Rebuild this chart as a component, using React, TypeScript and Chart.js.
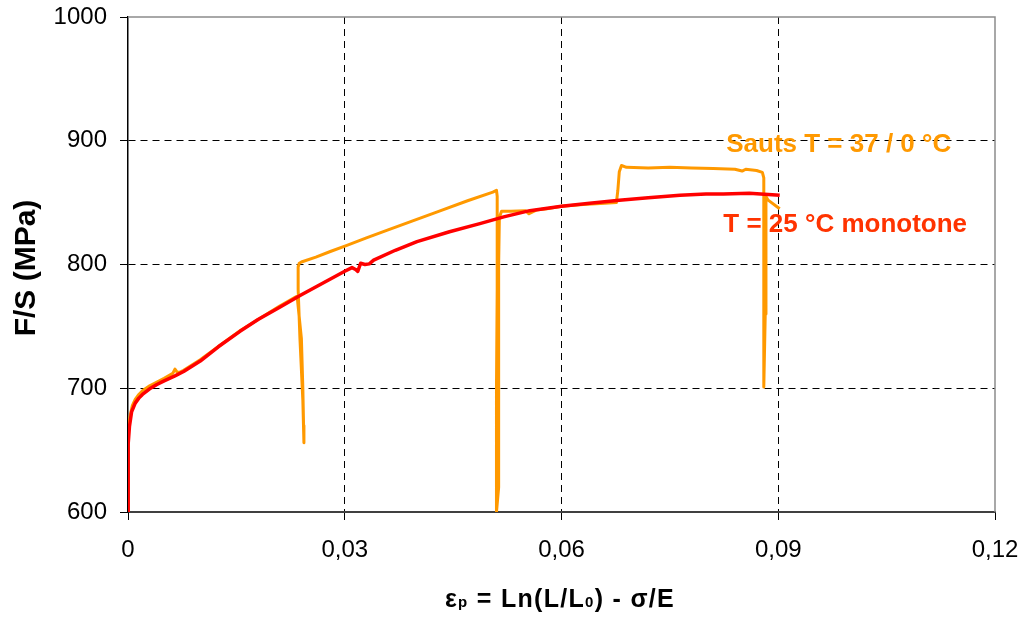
import React, { useEffect, useRef } from 'react';
import { Chart, registerables } from 'chart.js';

Chart.register(...registerables);

// ---- Data ----
const redStrain = [
  0, 0, 0.00005, 0.0002, 0.0005, 0.001, 0.0015, 0.002, 0.003, 0.004, 0.005, 0.0065, 0.0077,
  0.01, 0.0125, 0.0155, 0.018, 0.021, 0.024, 0.027, 0.0300, 0.0310, 0.0315, 0.0318, 0.0322,
  0.0328, 0.0334, 0.0340, 0.037, 0.040, 0.0445, 0.0487, 0.052, 0.0556, 0.060, 0.0639, 0.068,
  0.072, 0.0764, 0.080, 0.0824, 0.086, 0.0902,
];
const redStress = [
  600, 630, 655, 669, 681, 688, 692, 695, 699.5, 703, 706, 710, 713.5,
  722, 733.5, 746, 755.5, 765.5, 775.5, 785, 794.5, 797.5, 796, 794.5, 801,
  800, 800.5, 803.5, 811.5, 818.5, 826.5, 833, 838.5, 843.5, 847, 849.5, 852,
  854, 856, 857, 857, 857.5, 856,
];

const orangeStrain = [
  0, 0, 0.0001, 0.0003, 0.0006, 0.001, 0.0015, 0.002, 0.003, 0.005, 0.0062, 0.0065, 0.0068,
  0.0072, 0.0077, 0.01, 0.0155, 0.021, 0.0233,
  0.02345, 0.0240, 0.0242, 0.0243, 0.02435, 0.0242, 0.0238, 0.02355, 0.02355, 0.0237, 0.0240,
  0.026, 0.028, 0.0303, 0.033, 0.036, 0.0395, 0.043, 0.047, 0.0505, 0.0510,
  0.0511, 0.0511, 0.0510, 0.0510, 0.0513, 0.0513, 0.0513, 0.0514, 0.0517, 0.053, 0.055, 0.0555,
  0.0565, 0.058, 0.060, 0.063, 0.066, 0.0676,
  0.0678, 0.0680, 0.0683, 0.069, 0.072, 0.075, 0.078, 0.081, 0.084, 0.085, 0.0855, 0.087, 0.0878,
  0.0880, 0.0880, 0.0880, 0.0882, 0.0883, 0.0883, 0.0886, 0.0902,
];
const orangeStress = [
  600, 650, 668, 678, 686, 691, 695, 698, 702, 708, 712, 715.5, 713,
  713, 714.5, 723, 746.5, 766.5, 774,
  772, 740, 700, 670, 656, 690, 740, 780, 798, 801, 802,
  806, 810.5, 815.5, 821.5, 828, 835.5, 843, 851.5, 858.5, 860,
  855, 780, 700, 600, 620, 700, 800, 838, 843, 843, 843.5, 841,
  844, 845, 847, 848.5, 849.5, 850,
  860, 875, 880, 878.5, 878, 878.5, 878, 877.5, 877, 875.5, 877, 876, 874.5,
  870, 800, 701, 760, 830, 855, 852, 845,
];

const xTickValues = [0, 0.03, 0.06, 0.09, 0.12];
const xTickLabels = ['0', '0,03', '0,06', '0,09', '0,12'];
const yTickValues = [600, 700, 800, 900, 1000];
const seriesNames = ['T = 25 °C monotone', 'Sauts T = 37 / 0 °C'];
const yTitle = 'F/S (MPa)';

const FONT = "'Liberation Sans', Arial, Helvetica, sans-serif";

const overlayPlugin = {
  id: 'overlay',
  afterDraw(chart: any) {
    const { ctx, chartArea: a, scales } = chart;
    const xs = scales.x;
    const ys = scales.y;
    ctx.save();
    // top and right frame
    ctx.strokeStyle = '#8c8c8c';
    ctx.lineWidth = 1.5;
    ctx.beginPath();
    ctx.moveTo(a.left, a.top);
    ctx.lineTo(a.right, a.top);
    ctx.lineTo(a.right, a.bottom);
    ctx.stroke();

    // series labels
    ctx.font = `bold 26px ${FONT}`;
    ctx.textAlign = 'left';
    ctx.textBaseline = 'alphabetic';
    ctx.fillStyle = '#FF9900';
    ctx.fillText(seriesNames[1], xs.getPixelForValue(0.0828), ys.getPixelForValue(891.3));
    ctx.fillStyle = '#FF3300';
    ctx.fillText(seriesNames[0], xs.getPixelForValue(0.0824), ys.getPixelForValue(826));

    // y axis title
    ctx.fillStyle = '#000';
    ctx.font = `bold 30px ${FONT}`;
    ctx.save();
    ctx.translate(35, 268);
    ctx.rotate(-Math.PI / 2);
    ctx.textAlign = 'center';
    ctx.fillText(yTitle, 0, 0);
    ctx.restore();

    // x axis title with subscripts
    const parts: [string, number][] = [
      ['ε', 25], ['p', 15], [' = Ln(L/L', 25], ['0', 15], [') - σ/E', 25],
    ];
    (ctx as any).letterSpacing = '1.3px';
    let total = 0;
    const widths = parts.map(([t, s]) => {
      ctx.font = `bold ${s}px ${FONT}`;
      const w = ctx.measureText(t).width;
      total += w;
      return w;
    });
    let x = 560 - total / 2;
    const base = 607;
    ctx.textAlign = 'left';
    parts.forEach(([t, s], i) => {
      ctx.font = `bold ${s}px ${FONT}`;
      ctx.fillText(t, x, base);
      x += widths[i];
    });
    (ctx as any).letterSpacing = '0px';
    ctx.restore();
  },
};

export default function App() {
  const ref = useRef<HTMLCanvasElement | null>(null);

  useEffect(() => {
    document.body.style.margin = '0';
    const canvas = ref.current;
    if (!canvas) return;
    const redData = redStrain.map((x, i) => ({ x, y: redStress[i] }));
    const orangeData = orangeStrain.map((x, i) => ({ x, y: orangeStress[i] }));

    const chart = new Chart(canvas, {
      type: 'line',
      data: {
        datasets: [
          {
            label: seriesNames[0],
            data: redData,
            borderColor: '#FF0000',
            backgroundColor: '#FF0000',
            borderWidth: 3.5,
            pointRadius: 0,
            tension: 0,
            borderJoinStyle: 'round',
          },
          {
            label: seriesNames[1],
            data: orangeData,
            borderColor: '#FF9900',
            backgroundColor: '#FF9900',
            borderWidth: 3,
            pointRadius: 0,
            tension: 0,
            borderJoinStyle: 'round',
          },
        ],
      },
      options: {
        responsive: false,
        animation: false,
        events: [],
        layout: { padding: { top: 17, right: 30, left: 0, bottom: 0 } },
        plugins: {
          legend: { display: false },
          tooltip: { enabled: false },
          title: { display: false },
        },
        scales: {
          x: {
            type: 'linear',
            min: 0,
            max: 0.12,
            afterBuildTicks: (s: any) => {
              s.ticks = xTickValues.map((v) => ({ value: v }));
            },
            afterFit: (s: any) => {
              s.height = 105;
              s.paddingLeft = 0;
              s.paddingRight = 0;
            },
            ticks: {
              autoSkip: false,
              maxRotation: 0,
              padding: 16,
              color: '#000',
              font: { family: FONT, size: 24 },
              callback: (_v: any, i: number) => xTickLabels[i],
            },
            grid: {
              color: (c: any) =>
                c.tick && (c.tick.value === 0 || c.tick.value === 0.12) ? 'rgba(0,0,0,0)' : '#000',
              lineWidth: 1,
              tickColor: '#000',
              tickLength: 8,
              tickWidth: 1,
              tickBorderDash: [],
            },
            border: { display: true, color: '#404040', width: 2, dash: [7, 5] },
          },
          y: {
            type: 'linear',
            min: 600,
            max: 1000,
            afterBuildTicks: (s: any) => {
              s.ticks = yTickValues.map((v) => ({ value: v }));
            },
            afterFit: (s: any) => {
              s.width = 128;
              s.paddingTop = 0;
              s.paddingBottom = 0;
            },
            ticks: {
              padding: 13,
              color: '#000',
              font: { family: FONT, size: 24 },
              callback: (v: any) => String(v),
            },
            grid: {
              color: (c: any) =>
                c.tick && (c.tick.value === 600 || c.tick.value === 1000) ? 'rgba(0,0,0,0)' : '#000',
              lineWidth: 1,
              tickColor: '#000',
              tickLength: 8,
              tickWidth: 1,
              tickBorderDash: [],
            },
            border: { display: true, color: '#000', width: 1.5, dash: [7, 5] },
          },
        },
      },
      plugins: [overlayPlugin],
    } as any);

    return () => chart.destroy();
  }, []);

  return (
    <div style={{ position: 'absolute', left: 0, top: 0, width: 1025, height: 617 }}>
      <canvas ref={ref} width={1025} height={617} style={{ width: 1025, height: 617 }} />
    </div>
  );
}
